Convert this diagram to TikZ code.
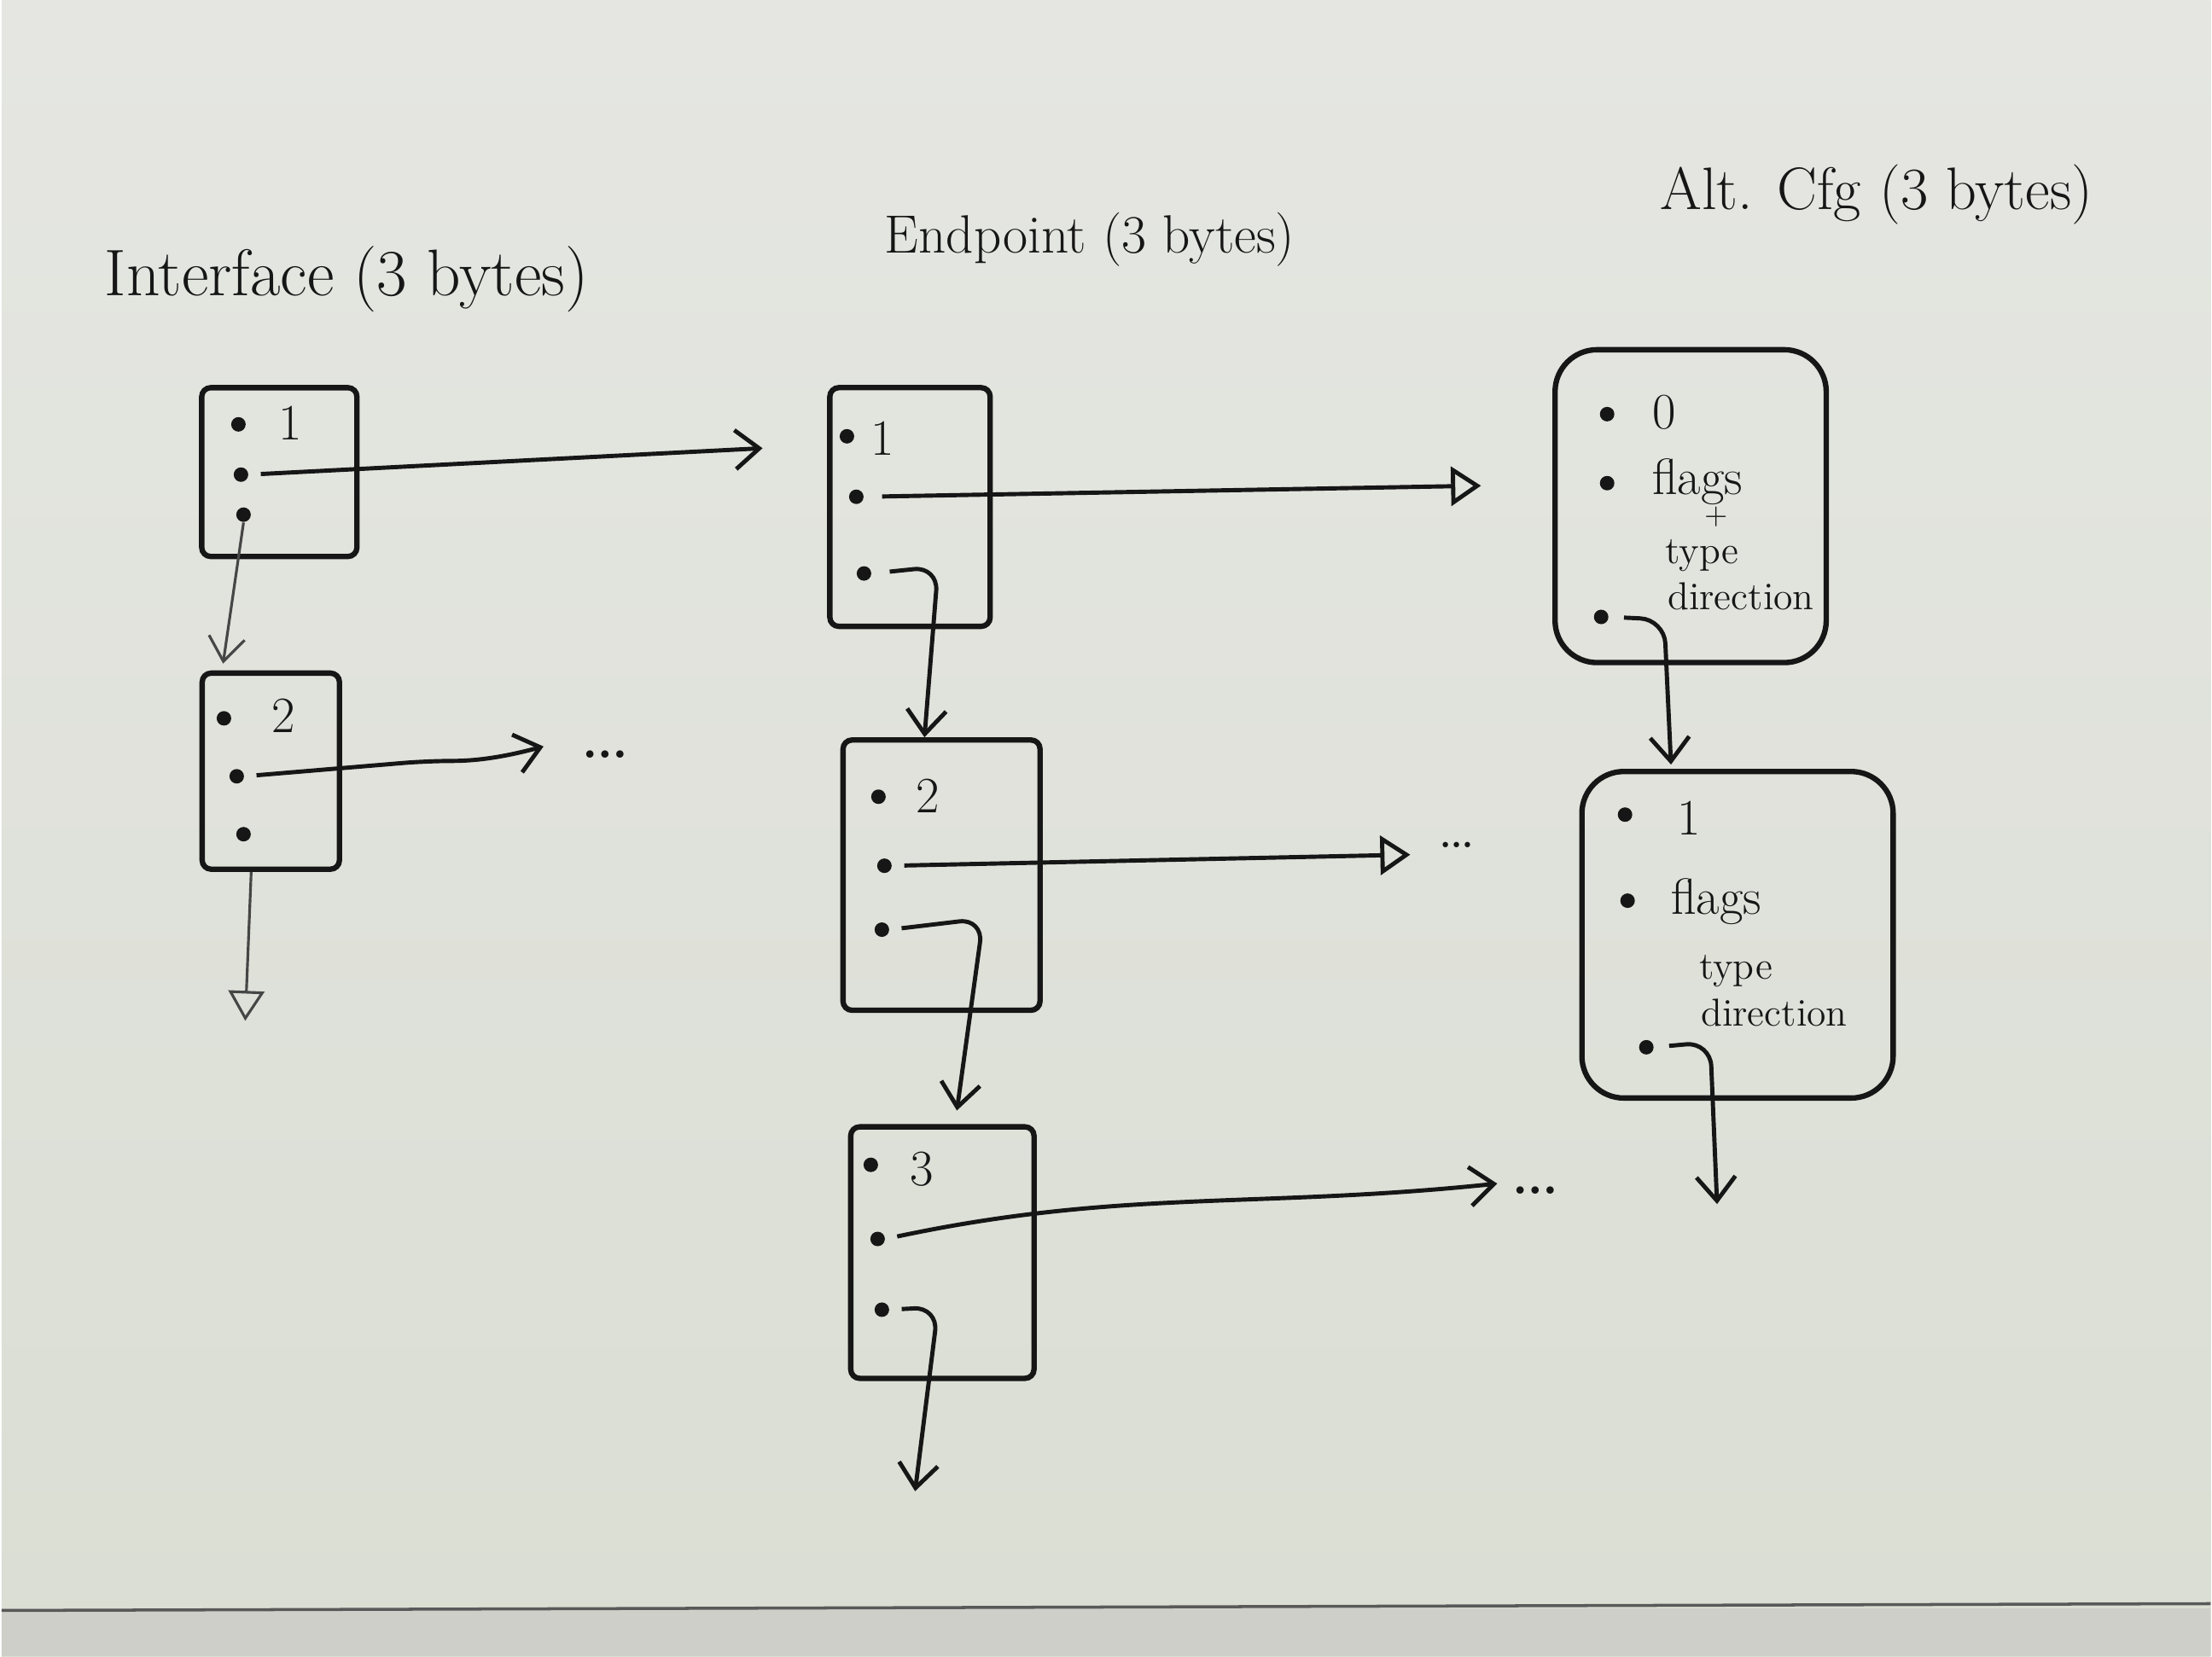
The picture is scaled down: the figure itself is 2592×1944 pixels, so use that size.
\documentclass[tikz,border=0pt]{standalone}
\usepackage{tikz}
\usetikzlibrary{arrows.meta,calc}

\definecolor{board}{RGB}{218,222,211}
\definecolor{boardtop}{RGB}{229,230,226}
\definecolor{ink}{RGB}{22,22,22}
\definecolor{ledge}{RGB}{206,207,201}

\begin{document}
\begin{tikzpicture}[x=0.01cm,y=-0.01cm,
  rec/.style={draw=ink,line width=1.8pt,inner sep=0pt,rounded corners=3pt},
  dot/.style={circle,fill=ink,inner sep=0pt,minimum size=0.17cm},
  item/.style={font=\fontsize{17}{19}\selectfont,text=ink},
  note/.style={font=\fontsize{13}{15}\selectfont,text=ink},
  more/.style={font=\fontsize{30}{32}\selectfont,text=ink},
  title/.style={font=\fontsize{18}{22}\selectfont,text=ink},
  link/.style={draw=ink,line width=1.4pt,rounded corners=8pt,-{Straight Barb[length=8pt,width=13pt]}},
  hollow/.style={draw=ink,line width=1.4pt,-{Triangle[open,length=10pt,width=13pt,line width=1.4pt]}},
  faint/.style={draw=gray!55!black,line width=0.9pt}]
% whiteboard
\shade[top color=boardtop,bottom color=board] (0,0) rectangle (2592,1944);
\fill[ledge] (0,1888) rectangle (2592,1944);
\draw[gray!70!black,line width=1pt] (0,1890) -- (2592,1882);
% column headings
\node[title,font=\fontsize{22}{26}\selectfont] (iftitle) at (405,328) {Interface (3 bytes)};
\node[title] (eptitle) at (1277,281) {Endpoint (3 bytes)};
\node[title,font=\fontsize{20}{24}\selectfont] (alttitle) at (2200,228) {Alt. Cfg (3 bytes)};
% Interface: two records
\node[rec,minimum width=1.82cm,minimum height=1.98cm] (if1) at (326,554) {};
\node[rec,minimum width=1.61cm,minimum height=2.30cm] (if2) at (316,905) {};
% Endpoint: three records
\node[rec,minimum width=1.88cm,minimum height=2.80cm] (ep1) at (1066,595) {};
\node[rec,minimum width=2.31cm,minimum height=3.17cm] (ep2) at (1103,1027) {};
\node[rec,minimum width=2.15cm,minimum height=2.95cm] (ep3) at (1104,1470) {};
% Alt. Cfg: two records
\node[rec,rounded corners=14pt,minimum width=3.18cm,minimum height=3.67cm] (alt0) at (1982,594) {};
\node[rec,rounded corners=14pt,minimum width=3.65cm,minimum height=3.83cm] (alt1) at (2037,1097) {};
% fields
\foreach \n/\x/\y in {if1a/278/498, if1b/281/557, if1c/284/604,
                      if2a/261/843, if2b/276/911, if2c/284/979,
                      ep1a/992/512, ep1b/1003/583, ep1c/1012/673,
                      ep2a/1029/935, ep2b/1036/1016, ep2c/1033/1091,
                      ep3a/1020/1367, ep3b/1028/1454, ep3c/1033/1537,
                      alt0a/1884/486, alt0b/1884/567, alt0c/1877/724,
                      alt1a/1905/956, alt1b/1908/1057, alt1c/1930/1229}
  \node[dot] (\n) at (\x,\y) {};
\node[item] (if1n) at (339,496) {1};
\node[item] (if2n) at (331,840) {2};
\node[item] (ep1n) at (1034,514) {1};
\node[item] (ep2n) at (1087,934) {2};
\node[item] (ep3n) at (1080,1372) {3};
\node[item] (alt0n) at (1951,484) {0};
\node[item] (alt0f) at (1990,565) {flags};
\node[note,font=\fontsize{10}{11}\selectfont] (alt0p) at (2012,607) {+};
\node[note] (alt0t) at (1995,652) {type};
\node[note] (alt0d) at (2041,700) {direction};
\node[item] (alt1n) at (1980,960) {1};
\node[item] (alt1f) at (2012,1058) {flags};
\node[note] (alt1t) at (2035,1140) {type};
\node[note] (alt1d) at (2080,1188) {direction};
% free ends
\coordinate (if1to) at (893,526);
\coordinate (if2to) at (636,876);
\coordinate (if2dn) at (286,1198);
\coordinate (ep1to) at (1736,570);
\coordinate (ep2to) at (1653,1003);
\coordinate (ep3to) at (1755,1389);
\coordinate (ep3dn) at (1072,1750);
\coordinate (alt1dn) at (2013,1413);
\node[more] (if2more) at (708,885) {\dots};
\node[more,font=\fontsize{22}{24}\selectfont] (ep2more) at (1708,992) {\dots};
\node[more] (ep3more) at (1800,1397) {\dots};
% Interface links
\draw[link,shorten <=4pt] (if1b.east) -- (if1to);
\draw[faint,-{Straight Barb[length=8pt,width=12pt]}] (if1c.south) -- ([xshift=-0.56cm,yshift=0.08cm]if2.north);
\draw[link,shorten <=4pt] (if2b.east) -- (500,893) to[out=0,in=195] (if2to);
\draw[faint,-{Triangle[open,length=10pt,width=12pt]}] ([xshift=-0.23cm]if2.south) -- (if2dn);
% Endpoint links
\draw[hollow,shorten <=6pt] (ep1b.east) -- (ep1to);
\draw[link,shorten <=6pt] (ep1c.east) -- (1099,665) -- ([xshift=-0.2cm]ep2.north);
\draw[hollow,shorten <=4pt] (ep2b.east) -- (ep2to);
\draw[link,shorten <=4pt] (ep2c.east) -- (1152,1078) -- ([xshift=0.17cm,yshift=0.16cm]ep3.north);
\draw[link,shorten <=4pt] (ep3b.east) to[out=12,in=186] (ep3to);
\draw[link,shorten <=4pt] (ep3c.east) -- (1099,1534) -- (ep3dn);
% Alt. Cfg links
\draw[link,shorten <=5pt] (alt0c.east) -- (1951,727) -- ([xshift=-0.78cm,yshift=0.05cm]alt1.north);
\draw[link,shorten <=5pt] (alt1c.east) -- (2005,1223) -- (alt1dn);
\end{tikzpicture}
\end{document}
